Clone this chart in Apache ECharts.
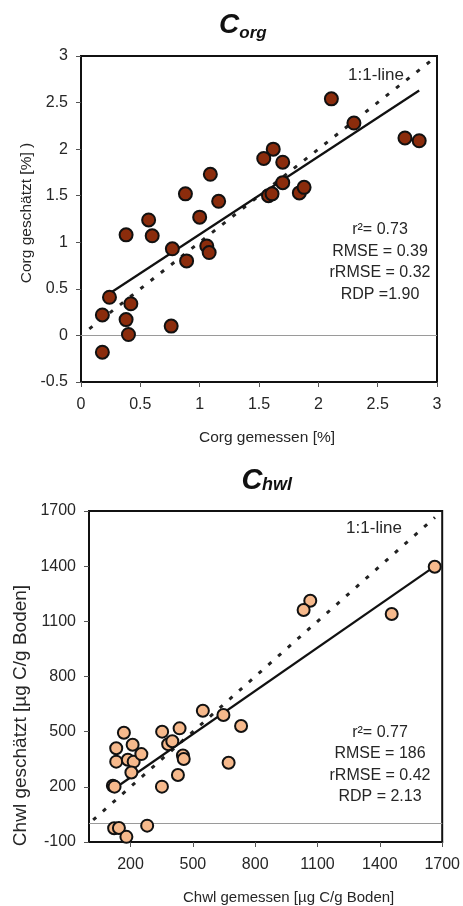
<!DOCTYPE html>
<html>
<head>
<meta charset="utf-8">
<script src="https://cdn.jsdelivr.net/npm/echarts@6/dist/echarts.min.js"></script>
<style>html,body{margin:0;padding:0;background:#fff}#c{width:463px;height:906px}</style>
</head>
<body>
<div id="c"></div>
<script>
// ---- C_org data ----
const corgMeasured  = [0.18,0.18,0.24,0.38,0.42,0.40,0.38,0.57,0.60,0.76,0.77,0.89,0.88,1.00,1.06,1.08,1.16,1.09,1.54,1.62,1.70,1.70,1.58,1.61,1.84,1.88,2.11,2.30,2.73,2.85];
const corgEstimated = [-0.18,0.22,0.41,0.17,0.34,0.01,1.08,1.24,1.07,0.10,0.93,0.80,1.52,1.27,0.96,0.89,1.44,1.73,1.90,2.00,1.86,1.64,1.50,1.52,1.53,1.59,2.54,2.28,2.12,2.09];
const corgOneToOne = [[0.07,0.07],[3,3]];
const corgFit = [[0.24,0.45],[2.85,2.63]];
const corgStats = ['r²= 0.73','RMSE = 0.39','rRMSE = 0.32','RDP =1.90'];

// ---- C_hwl data ----
const chwlMeasured  = [168,131,131,210,187,215,252,204,115,123,352,436,381,401,452,456,428,351,548,647,732,672,121,144,180,280,1065,1033,1457,1664];
const chwlEstimated = [494,410,337,429,347,337,378,278,206,201,500,518,432,448,370,351,264,201,614,591,531,331,-25,-24,-72,-11,1212,1162,1140,1397];
const chwlOneToOne = [[20,20],[1665,1665]];
const chwlFit = [[147,210],[1662,1397]];
const chwlStats = ['r²= 0.77','RMSE = 186','rRMSE = 0.42','RDP = 2.13'];
const chwlXTicks = [200,500,800,1100,1400,1700];
const chwlYTicks = [-100,200,500,800,1100,1400,1700];

const FONT = '"Liberation Sans", Arial, sans-serif';
const TXT = '#262626';

function zip(a,b){return a.map((v,i)=>[v,b[i]]);}
const plain = v => String(v);

const chart = echarts.init(document.getElementById('c'), null, {renderer:'canvas'});

function axisCommon(){
  return {
    type:'value',
    nameLocation:'middle',
    nameMoveOverlap:false,
    axisLine:{onZero:false, lineStyle:{color:'#111', width:2}},
    axisTick:{show:true, inside:false, length:5, lineStyle:{color:'#555', width:1}},
    axisLabel:{fontSize:16, color:TXT, fontFamily:FONT, margin:13, formatter:plain},
    splitLine:{show:false}
  };
}

const option = {
  animation:false,
  backgroundColor:'#ffffff',
  textStyle:{fontFamily:FONT},
  grid:[
    {left:81, top:56, width:356, height:326, show:true, borderColor:'#111', borderWidth:2, backgroundColor:'transparent'},
    {left:89, top:511, width:354, height:331, show:true, borderColor:'#111', borderWidth:2, backgroundColor:'transparent'}
  ],
  xAxis:[
    Object.assign(axisCommon(), {
      gridIndex:0, min:0, max:3, interval:0.5,
      name:'Corg gemessen [%]', nameGap:48,
      nameTextStyle:{fontSize:15.5, color:TXT, fontFamily:FONT, padding:[0,0,0,16]},
      axisLabel:{fontSize:16, color:TXT, fontFamily:FONT, margin:15, formatter:plain}
    }),
    Object.assign(axisCommon(), {
      gridIndex:1, min:0, max:1700,
      name:'Chwl gemessen [µg C/g Boden]', nameGap:48,
      nameTextStyle:{fontSize:15, color:TXT, fontFamily:FONT, padding:[0,0,0,46]},
      axisTick:{show:true, length:5, lineStyle:{color:'#555', width:1}, customValues:chwlXTicks},
      axisLabel:{fontSize:16, color:TXT, fontFamily:FONT, margin:15, customValues:chwlXTicks, formatter:plain}
    })
  ],
  yAxis:[
    Object.assign(axisCommon(), {
      gridIndex:0, min:-0.5, max:3, interval:0.5,
      name:'Corg geschätzt [%] )', nameGap:46,
      nameTextStyle:{fontSize:15.5, color:TXT, fontFamily:FONT, padding:[0,0,0,12]}
    }),
    Object.assign(axisCommon(), {
      gridIndex:1, min:-100, max:1700,
      name:'Chwl geschätzt [µg C/g Boden]', nameGap:59,
      nameTextStyle:{fontSize:19, color:TXT, fontFamily:FONT, padding:[0,78,0,0]},
      axisTick:{show:true, length:5, lineStyle:{color:'#555', width:1}, customValues:chwlYTicks},
      axisLabel:{fontSize:16, color:TXT, fontFamily:FONT, margin:13, customValues:chwlYTicks, formatter:plain}
    })
  ],
  series:[
    {type:'line', xAxisIndex:0, yAxisIndex:0, data:corgOneToOne, symbol:'none', silent:true,
     lineStyle:{color:'#222', width:3, type:[4,9]}, z:2},
    {type:'line', xAxisIndex:0, yAxisIndex:0, data:corgFit, symbol:'none', silent:true,
     lineStyle:{color:'#111', width:2.2}, z:2,
     markLine:{symbol:'none', silent:true, label:{show:false}, lineStyle:{color:'#9a9a9a', width:1.2, type:'solid'}, data:[{yAxis:0}]}},
    {type:'scatter', xAxisIndex:0, yAxisIndex:0, data:zip(corgMeasured, corgEstimated), symbolSize:13,
     itemStyle:{color:'#8b2c0c', borderColor:'#111', borderWidth:2, opacity:1}, z:5},

    {type:'line', xAxisIndex:1, yAxisIndex:1, data:chwlOneToOne, symbol:'none', silent:true,
     lineStyle:{color:'#222', width:3, type:[4,9]}, z:2},
    {type:'line', xAxisIndex:1, yAxisIndex:1, data:chwlFit, symbol:'none', silent:true,
     lineStyle:{color:'#111', width:2.2}, z:2,
     markLine:{symbol:'none', silent:true, label:{show:false}, lineStyle:{color:'#9a9a9a', width:1.2, type:'solid'}, data:[{yAxis:0}]}},
    {type:'scatter', xAxisIndex:1, yAxisIndex:1, data:zip(chwlMeasured, chwlEstimated), symbolSize:12,
     itemStyle:{color:'#f6b98c', borderColor:'#111', borderWidth:2, opacity:1}, z:5}
  ],
  graphic:[
    {type:'text', style:{x:229, y:25, text:'C', font:'bold italic 28px '+FONT, fill:'#111', textAlign:'center', textVerticalAlign:'middle'}},
    {type:'text', style:{x:253, y:33, text:'org', font:'bold italic 17px '+FONT, fill:'#111', textAlign:'center', textVerticalAlign:'middle'}},
    {type:'text', style:{x:252, y:481, text:'C', font:'bold italic 29px '+FONT, fill:'#111', textAlign:'center', textVerticalAlign:'middle'}},
    {type:'text', style:{x:277, y:485, text:'hwl', font:'bold italic 18px '+FONT, fill:'#111', textAlign:'center', textVerticalAlign:'middle'}},
    {type:'text', style:{x:376, y:75, text:'1:1-line', font:'17px '+FONT, fill:TXT, textAlign:'center', textVerticalAlign:'middle'}},
    {type:'text', style:{x:374, y:528, text:'1:1-line', font:'17px '+FONT, fill:TXT, textAlign:'center', textVerticalAlign:'middle'}},
    {type:'text', style:{x:380, y:219, text:corgStats.join('\n'), font:'16px '+FONT, lineHeight:21.6, fill:TXT, textAlign:'center', textVerticalAlign:'top'}},
    {type:'text', style:{x:380, y:722, text:chwlStats.join('\n'), font:'16px '+FONT, lineHeight:21.3, fill:TXT, textAlign:'center', textVerticalAlign:'top'}}
  ]
};
chart.setOption(option);
</script>
</body>
</html>
